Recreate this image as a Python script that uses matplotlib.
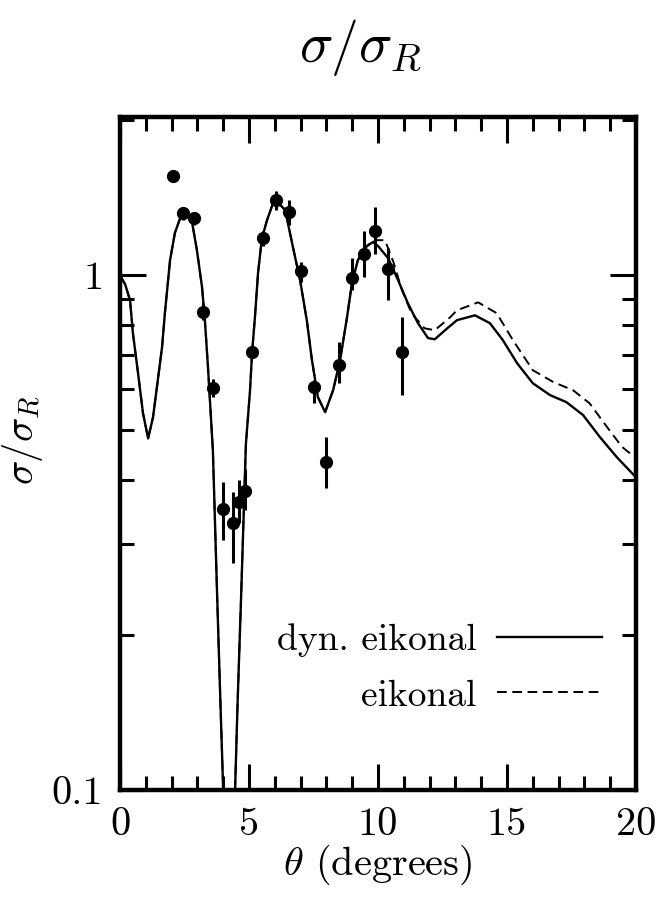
import matplotlib
matplotlib.use("Agg")
import matplotlib.pyplot as plt
from matplotlib.ticker import FixedLocator, NullFormatter

# Angular distribution sigma/sigma_R: dynamic eikonal vs eikonal, with data
theta_dyn = [0.0, 0.2, 0.39, 0.5, 0.7, 0.89, 1.09, 1.28, 1.43, 1.63, 1.74,
             1.94, 2.13, 2.33, 2.52, 2.79, 2.98, 3.18, 3.29, 3.41, 3.60,
             3.77, 3.89, 4.0, 4.1, 4.23, 4.36, 4.46, 4.56, 4.69, 4.88, 5.04,
             5.12, 5.23, 5.35, 5.50, 5.70, 5.93, 6.08, 6.40, 6.71, 6.98, 7.24,
             7.44, 7.67, 7.95, 8.26, 8.53, 8.80, 8.99, 9.22, 9.57, 9.8, 10.0,
             10.39, 10.78, 11.16, 11.55, 11.94, 12.2, 12.7, 13.06, 13.76,
             14.34, 14.84, 15.39, 16.0, 16.67, 17.3, 17.95, 18.6, 19.26, 20.0]
sigma_dyn = [1.0, 0.96, 0.894, 0.772, 0.645, 0.540, 0.482, 0.530, 0.606,
             0.725, 0.844, 1.07, 1.21, 1.29, 1.32, 1.27, 1.12, 0.948, 0.818,
             0.663, 0.457, 0.234, 0.149, 0.100, 0.07, 0.045, 0.07, 0.100,
             0.149, 0.234, 0.470, 0.598, 0.708, 0.829, 1.01, 1.18, 1.28,
             1.38, 1.39, 1.34, 1.13, 0.978, 0.818, 0.684, 0.580, 0.542, 0.598,
             0.684, 0.829, 0.965, 1.07, 1.14, 1.16, 1.14, 1.08, 0.978, 0.882,
             0.807, 0.755, 0.751, 0.790, 0.818, 0.836, 0.807, 0.748, 0.675,
             0.617, 0.585, 0.567, 0.535, 0.485, 0.443, 0.405]

theta_eik = theta_dyn[:51] + [9.57, 9.9, 10.27, 10.6, 10.93, 11.3, 11.8,
                              12.2, 12.8, 13.06, 13.88, 14.6, 15.23, 16.0,
                              16.8, 17.56, 18.2, 18.88, 19.46, 20.0]
sigma_eik = sigma_dyn[:51] + [1.14, 1.17, 1.17, 1.06, 0.935, 0.844, 0.789,
                              0.782, 0.829, 0.855, 0.886, 0.844, 0.748, 0.654,
                              0.620, 0.598, 0.564, 0.507, 0.464, 0.441]

theta_exp = [2.06, 2.45, 2.87, 3.21, 3.60, 3.99, 4.38, 4.61, 4.84, 5.10, 5.53,
             6.05, 6.55, 7.02, 7.52, 7.98, 8.47, 8.99, 9.44, 9.90, 10.39, 10.92]
sigma_exp = [1.56, 1.32, 1.29, 0.85, 0.603, 0.352, 0.330, 0.362, 0.381, 0.708,
             1.18, 1.40, 1.33, 1.02, 0.606, 0.434, 0.67, 0.987, 1.10, 1.22,
             1.03, 0.708]
sigma_exp_hi = [1.60, 1.36, 1.33, 0.88, 0.63, 0.396, 0.379, 0.40, 0.42, 0.73,
                1.22, 1.46, 1.40, 1.06, 0.625, 0.485, 0.741, 1.08, 1.22, 1.36,
                1.13, 0.829]
sigma_exp_lo = [1.52, 1.28, 1.25, 0.82, 0.58, 0.306, 0.276, 0.33, 0.35, 0.69,
                1.14, 1.34, 1.25, 0.97, 0.564, 0.386, 0.617, 0.935, 0.991, 1.10,
                0.894, 0.585]

x_major = [0, 5, 10, 15, 20]
x_major_labels = ["0", "5", "10", "15", "20"]
y_major = [0.1, 1]
y_major_labels = ["0.1", "1"]
y_minor = [0.2, 0.3, 0.4, 0.5, 0.6, 0.7, 0.8, 0.9, 2.0]

plt.rcParams["font.family"] = "serif"
plt.rcParams["font.serif"] = ["cmr10", "DejaVu Serif"]
plt.rcParams["mathtext.fontset"] = "cm"
plt.rcParams["axes.formatter.use_mathtext"] = True
plt.rcParams["lines.scale_dashes"] = False

fig = plt.figure(figsize=(6.69, 9.11), dpi=100)
ax = fig.add_axes([120 / 669, 1 - 790 / 911, 516 / 669, 673 / 911])

ax.plot(theta_dyn, sigma_dyn, color="black", lw=1.7, label="dyn. eikonal")
ax.plot(theta_eik, sigma_eik, color="black", lw=1.4, dashes=(7, 4),
        label="eikonal")
yerr = [[s - lo for s, lo in zip(sigma_exp, sigma_exp_lo)],
        [hi - s for s, hi in zip(sigma_exp, sigma_exp_hi)]]
ax.errorbar(theta_exp, sigma_exp, yerr=yerr, fmt="o", color="black",
            ms=8.5, elinewidth=2.2, capsize=0, zorder=5)

ax.set_yscale("log")
ax.set_xlim(0, 20)
ax.set_ylim(0.1, 2.03)

ax.xaxis.set_major_locator(FixedLocator(x_major))
ax.set_xticklabels(x_major_labels)
ax.xaxis.set_minor_locator(FixedLocator(range(0, 21)))
ax.yaxis.set_major_locator(FixedLocator(y_major))
ax.set_yticklabels(y_major_labels)
ax.yaxis.set_minor_locator(FixedLocator(y_minor))
ax.yaxis.set_minor_formatter(NullFormatter())

ax.tick_params(which="both", direction="in", top=True, right=True,
               labelsize=29, width=2.2, color="black")
ax.tick_params(which="major", length=19, pad=12)
ax.tick_params(which="minor", length=10)
for sp in ax.spines.values():
    sp.set_linewidth(3.2)

ax.set_xlabel(r"$\theta$ (degrees)", fontsize=29, labelpad=0)
ax.set_ylabel(r"$\sigma/\sigma_R$", fontsize=29)
ax.yaxis.set_label_coords(-0.145, 0.52)
fig.text(0.538, 0.948, r"$\sigma/\sigma_R$", fontsize=40,
         ha="center", va="center")

leg = ax.legend(loc="lower right", bbox_to_anchor=(1.0, 0.065),
                markerfirst=False, frameon=False, fontsize=27,
                handlelength=2.8, handletextpad=0.55, labelspacing=0.6)

fig.savefig("out.png", dpi=100)
